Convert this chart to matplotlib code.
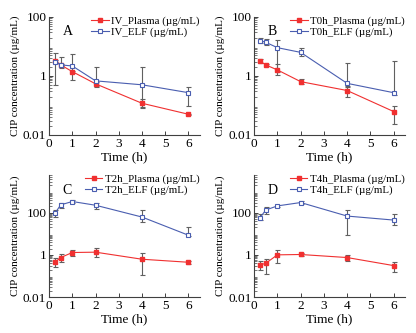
import numpy as np
import matplotlib.pyplot as plt
from matplotlib.ticker import LogLocator, NullFormatter, FixedLocator

plt.rcParams['font.family'] = ['Liberation Serif', 'DejaVu Serif']

t = [0.25, 0.5, 1, 2, 4, 6]

# panel A
iv_plasma = [3.22, 2.36, 1.40, 0.54, 0.118, 0.050]
iv_plasma_lo = [2.9, 2.1, 1.3, 0.46, 0.080, 0.047]
iv_plasma_hi = [3.6, 2.6, 1.5, 0.62, 0.166, 0.053]
iv_elf = [3.06, 2.36, 2.18, 0.68, 0.50, 0.27]
iv_elf_lo = [0.50, 1.82, 0.73, 0.41, 0.087, 0.096]
iv_elf_hi = [5.87, 4.52, 5.42, 2.07, 2.07, 0.41]

# panel B
t0_plasma = [3.22, 2.36, 1.60, 0.64, 0.32, 0.062]
t0_plasma_lo = [2.7, 2.2, 1.08, 0.54, 0.20, 0.024]
t0_plasma_hi = [3.65, 2.5, 2.55, 0.77, 0.46, 0.096]
t0_elf = [15.8, 13.8, 9.1, 6.3, 0.56, 0.27]
t0_elf_lo = [12.8, 11.2, 1.4, 4.8, 0.41, 0.23]
t0_elf_hi = [19.9, 17.5, 16.5, 8.7, 2.69, 3.3]

# panel C
t2_plasma = [0.445, 0.745, 1.29, 1.34, 0.62, 0.445]
t2_plasma_lo = [0.275, 0.48, 0.93, 0.83, 0.11, 0.38]
t2_plasma_hi = [0.69, 1.08, 1.74, 2.09, 1.2, 0.52]
t2_elf = [93, 234, 338, 225, 62, 8.5]
t2_elf_lo = [62, 174, 290, 155, 37, 7.6]
t2_elf_hi = [134, 302, 390, 302, 130, 21.4]

# panel D
t4_plasma = [0.33, 0.40, 1.0, 1.04, 0.745, 0.31]
t4_plasma_lo = [0.19, 0.13, 0.40, 0.9, 0.535, 0.16]
t4_plasma_hi = [0.515, 0.64, 1.74, 1.2, 1.0, 0.445]
t4_elf = [57.5, 134, 209, 302, 69, 44.6]
t4_elf_lo = [43, 83, 180, 260, 9.1, 24.7]
t4_elf_hi = [83, 195, 240, 350, 134, 83]

panels = [
    ('A', 'IV', iv_plasma, iv_plasma_lo, iv_plasma_hi, iv_elf, iv_elf_lo, iv_elf_hi, 100),
    ('B', 'T0h', t0_plasma, t0_plasma_lo, t0_plasma_hi, t0_elf, t0_elf_lo, t0_elf_hi, 100),
    ('C', 'T2h', t2_plasma, t2_plasma_lo, t2_plasma_hi, t2_elf, t2_elf_lo, t2_elf_hi, 6000),
    ('D', 'T4h', t4_plasma, t4_plasma_lo, t4_plasma_hi, t4_elf, t4_elf_lo, t4_elf_hi, 6000),
]

# axes boxes in figure fractions
boxes = [
    [0.118, 0.595, 0.363, 0.354],
    [0.611, 0.595, 0.363, 0.354],
    [0.118, 0.108, 0.363, 0.366],
    [0.611, 0.108, 0.363, 0.366],
]

red = '#f03030'
blue = '#4a5eb0'
errc = '#606060'

fig = plt.figure(figsize=(4.16, 3.33), dpi=100)

for (letter, name, pm, plo, phi, em, elo, ehi, ytop), box in zip(panels, boxes):
    ax = fig.add_axes(box)
    pm, plo, phi = np.array(pm), np.array(plo), np.array(phi)
    em, elo, ehi = np.array(em), np.array(elo), np.array(ehi)
    ax.errorbar(t, em, yerr=[em - elo, ehi - em], fmt='none', ecolor=errc,
                elinewidth=0.8, capsize=1.8, capthick=0.8, zorder=1)
    ax.errorbar(t, pm, yerr=[pm - plo, phi - pm], fmt='none', ecolor=errc,
                elinewidth=0.8, capsize=1.8, capthick=0.8, zorder=1)
    ax.plot(t, pm, color=red, lw=0.8, marker='s', ms=2.8, mfc=red, mec=red,
            label=name + '_Plasma (µg/mL)', zorder=3)
    ax.plot(t, em, color=blue, lw=0.8, marker='s', ms=3.2, mfc='white', mec=blue,
            mew=0.8, label=name + '_ELF (µg/mL)', zorder=3)
    ax.set_yscale('log')
    ax.set_ylim(0.01, ytop)
    ax.set_xlim(0, 6.5)
    ax.yaxis.set_major_locator(FixedLocator([0.01, 1, 100]))
    ax.set_yticklabels(['0.01', '1', '100'])
    ax.yaxis.set_minor_locator(LogLocator(base=10, subs=np.arange(2, 10), numticks=20))
    ax.yaxis.set_minor_formatter(NullFormatter())
    ax.set_xticks(range(7))
    ax.spines['top'].set_visible(False)
    ax.spines['right'].set_visible(False)
    for s in ['left', 'bottom']:
        ax.spines[s].set_linewidth(0.8)
        ax.spines[s].set_color('#404040')
    ax.tick_params(axis='both', which='major', labelsize=9.5, direction='in', length=3,
                   width=0.7, colors='#404040', labelcolor='black', pad=2)
    ax.tick_params(axis='y', which='minor', direction='in', length=1.8, width=0.5,
                   colors='#404040')
    ax.set_xlabel('Time (h)', fontsize=9.5, labelpad=1)
    ax.set_ylabel('CIP concentration (µg/mL)', fontsize=8, labelpad=2)
    ax.text(0.09, 0.93, letter, transform=ax.transAxes, fontsize=10, va='top')
    ax.legend(loc='upper right', frameon=False, fontsize=7.8, handlelength=1.6,
              handletextpad=0.2, labelspacing=0.1, borderaxespad=0.1,
              bbox_to_anchor=(1.03, 1.05))

fig.savefig('out.png', dpi=100)
